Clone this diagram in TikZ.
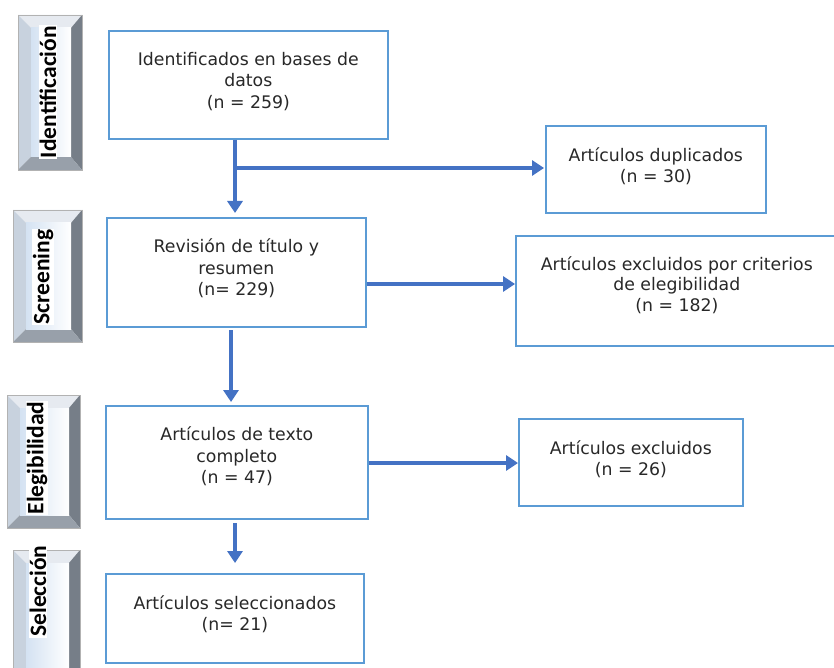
\documentclass[tikz,border=0pt]{standalone}
\usepackage{fontspec}
\setmainfont{DejaVu Sans}
\newfontfamily\labfont{Carlito}
\usetikzlibrary{arrows.meta,calc}
\definecolor{boxblue}{RGB}{91,155,213}
\definecolor{arrblue}{RGB}{68,114,196}
\definecolor{txtgray}{RGB}{40,40,40}
\definecolor{bvtop}{RGB}{230,234,240}
\definecolor{bvleft}{RGB}{200,210,222}
\definecolor{bvright}{RGB}{118,126,136}
\definecolor{bvbottom}{RGB}{152,160,170}
\definecolor{bvface}{RGB}{212,226,242}
\newcommand\bevelbox[4]{%
  \fill[bvtop] (#1,#2) -- (#3,#2) -- (#3-11,#2+13) -- (#1+13,#2+13) -- cycle;
  \fill[bvleft] (#1,#2) -- (#1+13,#2+13) -- (#1+13,#4-13) -- (#1,#4) -- cycle;
  \fill[bvright] (#3,#2) -- (#3,#4) -- (#3-11,#4-13) -- (#3-11,#2+13) -- cycle;
  \fill[bvbottom] (#1,#4) -- (#3,#4) -- (#3-11,#4-13) -- (#1+13,#4-13) -- cycle;
  \shade[left color=bvface,right color=white] (#1+13,#2+13) rectangle (#3-11,#4-13);
  \draw[gray!60,line width=0.6pt] (#1,#2) rectangle (#3,#4);
}
\begin{document}
\begin{tikzpicture}[x=1pt,y=-1pt,
  flowbox/.style={draw=boxblue,line width=1.6pt,fill=white,inner sep=0pt,anchor=north west},
  boxtext/.style={align=center,text=txtgray,font=\fontsize{17.3}{21.5}\selectfont,inner sep=0pt},
  arr/.style={draw=arrblue,line width=3.6pt,-{Triangle[length=12pt,width=15pt]}},
  phase/.style={rotate=90,fill=white,font=\labfont\bfseries\fontsize{23.5}{23.5}\selectfont,inner sep=1pt,text=black}
]
\fill[white] (0,0) rectangle (834,668);
\useasboundingbox (0,0) rectangle (834,668);

% phase bevels
\bevelbox{18}{15}{82}{170}
\bevelbox{13}{210}{82}{342}
\bevelbox{7}{395}{80}{528}
\bevelbox{13}{550}{80}{692}
\node[phase] (p1) at (48,92) {Identificación};
\node[phase] (p2) at (43,277) {Screening};
\node[phase] (p3) at (37,458) {Elegibilidad};
\node[phase] (p4) at (38,591) {Selección};

% boxes
\node[flowbox,minimum width=279pt,minimum height=108pt] (box1) at (108,30) {};
\node[flowbox,minimum width=259pt,minimum height=109pt] (rev) at (106,217) {};
\node[flowbox,minimum width=262pt,minimum height=113pt] (full) at (105,405) {};
\node[flowbox,minimum width=258pt,minimum height=89pt] (sel) at (105,573) {};
\node[flowbox,minimum width=220pt,minimum height=87pt] (dup) at (545,125) {};
\node[flowbox,minimum width=322pt,minimum height=110pt] (crit) at (515,235) {};
\node[flowbox,minimum width=224pt,minimum height=87pt] (excl) at (518,418) {};

\node[boxtext] (box1t) at ($(box1.center)+(0,-3.5)$) {Identificados en bases de\\datos\\(n = 259)};
\node[boxtext] (revt) at ($(rev.center)+(0,-4)$) {Revisión de título y\\resumen\\(n= 229)};
\node[boxtext] (fullt) at ($(full.center)+(0,-6)$) {Artículos de texto\\completo\\(n = 47)};
\node[boxtext] (selt) at ($(sel.center)+(0,-4)$) {Artículos seleccionados\\(n= 21)};
\node[boxtext] (dupt) at ($(dup.center)+(0,-3)$) {Artículos duplicados\\(n = 30)};
\node[boxtext,font=\fontsize{17.3}{20.5}\selectfont] (critt) at ($(crit.center)+(0,-6)$) {Artículos excluidos por criterios\\de elegibilidad\\(n = 182)};
\node[boxtext] (exclt) at ($(excl.center)+(0,-3)$) {Artículos excluidos\\(n = 26)};

% connectors
\coordinate (j1) at (235,168);
\coordinate (j2) at (366,284);
\coordinate (j3) at (231,330);
\coordinate (j4) at (367,463);
\coordinate (j5) at (235,523);
\draw[arr,shorten >=4pt] (box1.south -| j1) -- (rev.north -| j1);
\draw[arr,shorten >=1pt] (j1) -- (dup.west |- j1);
\draw[arr] (rev.east |- j2) -- (crit.west |- j2);
\draw[arr,shorten >=3pt] (j3) -- (full.north -| j3);
\draw[arr] (full.east |- j4) -- (excl.west |- j4);
\draw[arr,shorten >=10pt] (j5) -- (sel.north -| j5);
\end{tikzpicture}
\end{document}
